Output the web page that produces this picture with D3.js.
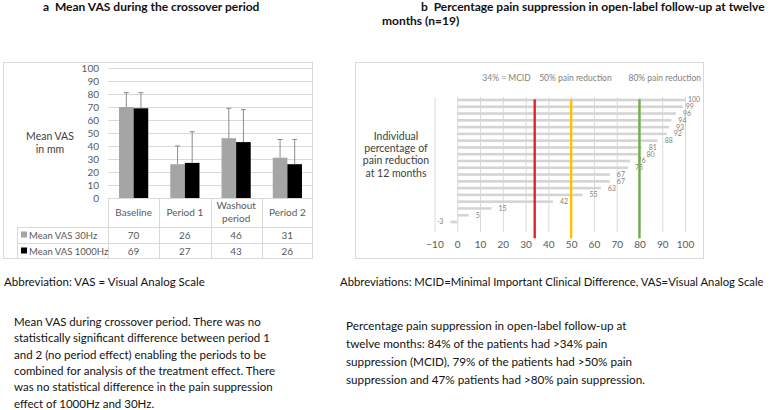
<!DOCTYPE html>
<html><head><meta charset="utf-8">
<script src="https://cdn.jsdelivr.net/npm/d3@7"></script>
<style>
html,body{margin:0;padding:0;background:#fff;}
svg{display:block;}
text{font-family:Lato,"Open Sans",sans-serif;}
</style></head>
<body>
<svg id="chart" width="772" height="410"></svg>
<script>
// ---------- data ----------
const categories = ["Baseline", "Period 1", "Washout period", "Period 2"];
const seriesNames = ["Mean VAS 30Hz", "Mean VAS 1000Hz"];
const vas30 = [70, 26, 46, 31];
const vas1000 = [69, 27, 43, 26];
const errTop30 = [81, 40, 69, 45];
const errTop1000 = [81, 51, 68, 45];
const yTicksA = [0, 10, 20, 30, 40, 50, 60, 70, 80, 90, 100];

const painReduction = [100, 99, 96, 94, 93, 92, 88, 81, 80, 76, 75, 67, 67, 63, 55, 42, 15, 5, -3];
const xTicksB = [-10, 0, 10, 20, 30, 40, 50, 60, 70, 80, 90, 100];
const refValues = [34, 50, 80];
const refLabels = ["34% = MCID", "50% pain reduction", "80% pain reduction"];

const titleA = "Mean VAS during the crossover period";
const titleB = ["Percentage pain suppression in open-label follow-up at twelve", "months (n=19)"];
const yTitleA = ["Mean VAS", "in mm"];
const yTitleB = ["Individual", "percentage of", "pain reduction", "at 12 months"];
const abbrevA = "Abbreviation: VAS = Visual Analog Scale";
const abbrevB = "Abbreviations: MCID=Minimal Important Clinical Difference, VAS=Visual Analog Scale";
const captionA = ["Mean VAS during crossover period. There was no",
  "statistically significant difference between period 1",
  "and 2 (no period effect) enabling the periods to be",
  "combined for analysis of the treatment effect. There",
  "was no statistical difference in the pain suppression",
  "effect of 1000Hz and 30Hz."];
const captionB = ["Percentage pain suppression in open-label follow-up at",
  "twelve months: 84% of the patients had >34% pain",
  "suppression (MCID), 79% of the patients had >50% pain",
  "suppression and 47% patients had >80% pain suppression."];

// ---------- styles ----------
const seriesColors = ["#a5a5a5", "#000000"];
const refColors = ["#e3222b", "#ffc000", "#70ad47"];
const gridColor = "#d9d9d9";
const tickColor = "#595959";

const svg = d3.select("#chart");

// ---------- titles ----------
function panelTitle(x, letter, lines, x2) {
  const g = svg.append("g").attr("font-weight", 700).attr("fill", "#111");
  lines.forEach((l, i) => {
    const t = g.append("text").attr("x", i === 0 ? x : x2).attr("y", 11 + i * 13.5).attr("font-size", 12);
    if (i === 0) {
      t.append("tspan").text(letter);
      t.append("tspan").attr("dx", 6).text(l);
    } else t.text(l);
  });
}
panelTitle(43, "a", [titleA], 0);
panelTitle(421, "b", titleB, 382);

// ---------- panel A ----------
const gA = svg.append("g");
gA.append("rect").attr("x", 3.5).attr("y", 62.5).attr("width", 309).attr("height", 196)
  .attr("fill", "none").attr("stroke", gridColor);

const yA = d3.scaleLinear().domain([0, 100]).range([198, 68]);
const xA = d3.scaleBand().domain(categories).range([108, 313]);

// gridlines
gA.append("g").attr("transform", "translate(108,0)")
  .call(d3.axisLeft(yA).tickValues(yTicksA.slice(1)).tickSize(-205).tickFormat(""))
  .call(g => g.select(".domain").remove())
  .call(g => g.selectAll("line").attr("stroke", gridColor));
// y tick labels
gA.append("g").attr("transform", "translate(99,0)")
  .call(d3.axisLeft(yA).tickValues(yTicksA).tickSize(0).tickPadding(0))
  .call(g => g.select(".domain").remove())
  .call(g => g.selectAll("text").attr("fill", tickColor).attr("font-size", 10).attr("font-family", "Lato"));

const bw = 14.6;
const seriesA = [vas30, vas1000];
const errA = [errTop30, errTop1000];
seriesA.forEach((vals, s) => {
  const cx = (c) => xA(c) + xA.bandwidth() / 2 - bw + s * bw;
  gA.append("g").selectAll("rect").data(categories).join("rect")
    .attr("x", c => cx(c)).attr("width", bw)
    .attr("y", (c, i) => yA(vals[i])).attr("height", (c, i) => yA(0) - yA(vals[i]))
    .attr("fill", seriesColors[s]);
  const eg = gA.append("g").attr("stroke", "#8c8c8c").attr("stroke-width", 1);
  categories.forEach((c, i) => {
    const x = cx(c) + bw / 2;
    eg.append("line").attr("x1", x).attr("x2", x).attr("y1", yA(vals[i])).attr("y2", yA(errA[s][i]));
    eg.append("line").attr("x1", x - 2.5).attr("x2", x + 2.5).attr("y1", yA(errA[s][i])).attr("y2", yA(errA[s][i]));
  });
});

// data table
const tbl = gA.append("g").attr("stroke", gridColor).attr("fill", "none");
const rowY = [198, 227, 243, 258];
tbl.append("line").attr("x1", 108).attr("x2", 313).attr("y1", rowY[0] + 0.5).attr("y2", rowY[0] + 0.5);
[1, 2].forEach(r => tbl.append("line").attr("x1", 17).attr("x2", 313).attr("y1", rowY[r] + 0.5).attr("y2", rowY[r] + 0.5));
categories.forEach(c => tbl.append("line").attr("x1", Math.round(xA(c)) + 0.5).attr("x2", Math.round(xA(c)) + 0.5)
  .attr("y1", rowY[0]).attr("y2", rowY[3]));
tbl.append("line").attr("x1", 17.5).attr("x2", 17.5).attr("y1", rowY[1]).attr("y2", rowY[3]);

// category labels via axis (wrap only when wider than the column)
gA.append("g").attr("transform", "translate(0,198)")
  .call(d3.axisBottom(xA).tickSize(0).tickPadding(0).tickFormat(""))
  .call(g => g.select(".domain").remove())
  .call(g => g.selectAll(".tick").each(function (d) {
    const t = d3.select(this).append("text").attr("fill", tickColor).attr("font-size", 10)
      .attr("font-family", "Lato").attr("text-anchor", "middle");
    t.text(d);
    let lines = [d];
    if (t.node().getComputedTextLength() > xA.bandwidth() - 6) lines = d.split(" ");
    t.text("");
    const y0 = lines.length > 1 ? 11 : 17.5;
    lines.forEach((w, i) => t.append("tspan").attr("x", 0).attr("y", y0 + i * 12.7).text(w));
  }));

seriesA.forEach((vals, s) => {
  const yy = rowY[s + 1] + 11.5;
  gA.append("rect").attr("x", 21).attr("y", yy - 7).attr("width", 6).attr("height", 6).attr("fill", seriesColors[s]);
  gA.append("text").attr("x", 29).attr("y", yy).attr("font-size", 9.5).attr("fill", tickColor).text(seriesNames[s]);
  gA.append("g").selectAll("text").data(categories).join("text")
    .attr("x", c => xA(c) + xA.bandwidth() / 2).attr("y", yy).attr("text-anchor", "middle")
    .attr("font-size", 10).attr("fill", tickColor).text((c, i) => vals[i]);
});

// y title
yTitleA.forEach((l, i) => gA.append("text").attr("x", 50).attr("y", 139.5 + i * 13).attr("text-anchor", "middle")
  .attr("font-size", 10.5).attr("fill", "#404040").text(l));

// ---------- panel B ----------
const gB = svg.append("g");
gB.append("rect").attr("x", 355.5).attr("y", 62.5).attr("width", 348).attr("height", 196)
  .attr("fill", "none").attr("stroke", gridColor);

const xB = d3.scaleLinear().domain([-10, 100]).range([434.5, 685]);
const yB = d3.scaleBand().domain(d3.range(painReduction.length)).range([96.6, 225.4]).paddingInner(0.62).paddingOuter(0.31);

gB.append("g").attr("transform", "translate(0,232)")
  .call(d3.axisBottom(xB).tickValues(xTicksB).tickSize(-135).tickFormat(""))
  .call(g => g.select(".domain").remove())
  .call(g => g.selectAll("line").attr("stroke", gridColor));
gB.append("g").attr("transform", "translate(0,241)")
  .call(d3.axisBottom(xB).tickValues(xTicksB).tickSize(0).tickPadding(0))
  .call(g => g.select(".domain").remove())
  .call(g => g.selectAll("text").attr("fill", tickColor).attr("font-size", 10).attr("font-family", "Lato"));

gB.append("g").selectAll("rect").data(painReduction).join("rect")
  .attr("x", d => xB(Math.min(0, d))).attr("width", d => Math.abs(xB(d) - xB(0)))
  .attr("y", (d, i) => yB(i)).attr("height", yB.bandwidth()).attr("fill", "#d4d4d4");

gB.append("g").selectAll("text").data(painReduction).join("text")
  .attr("x", d => d < 0 ? xB(d) - 7 : xB(d) + (d >= 99 ? 3 : 7))
  .attr("y", (d, i) => yB(i) + yB.bandwidth() / 2 + 2.4)
  .attr("text-anchor", d => d < 0 ? "end" : "start")
  .attr("font-size", 7).attr("fill", "#7f7f7f").text(d => d);

refValues.forEach((v, i) => {
  gB.append("line").attr("x1", xB(v)).attr("x2", xB(v)).attr("y1", 99.3).attr("y2", 238.3)
    .attr("stroke", refColors[i]).attr("stroke-width", 2.4);
});
const refLabelOffset = [-4, -32, -11];
refLabels.forEach((l, i) => {
  gB.append("text").attr("x", xB(refValues[i]) + refLabelOffset[i]).attr("y", 81)
    .attr("text-anchor", i === 0 ? "end" : "start")
    .attr("font-size", 8.5).attr("fill", "#7f7f7f").text(l);
});

yTitleB.forEach((l, i) => gB.append("text").attr("x", 396).attr("y", 139.5 + i * 12.4).attr("text-anchor", "middle")
  .attr("font-size", 10.5).attr("fill", "#404040").text(l));

// ---------- captions ----------
svg.append("text").attr("x", 4).attr("y", 286).attr("font-size", 11.5).attr("fill", "#111").text(abbrevA);
svg.append("text").attr("x", 340).attr("y", 286).attr("font-size", 11.3).attr("fill", "#111").text(abbrevB);
captionA.forEach((l, i) => svg.append("text").attr("x", 14).attr("y", 326 + i * 16.3)
  .attr("font-size", 11.5).attr("fill", "#111").text(l));
captionB.forEach((l, i) => svg.append("text").attr("x", 346).attr("y", 330 + i * 18)
  .attr("font-size", 11.7).attr("fill", "#111").text(l));
</script>
</body></html>
